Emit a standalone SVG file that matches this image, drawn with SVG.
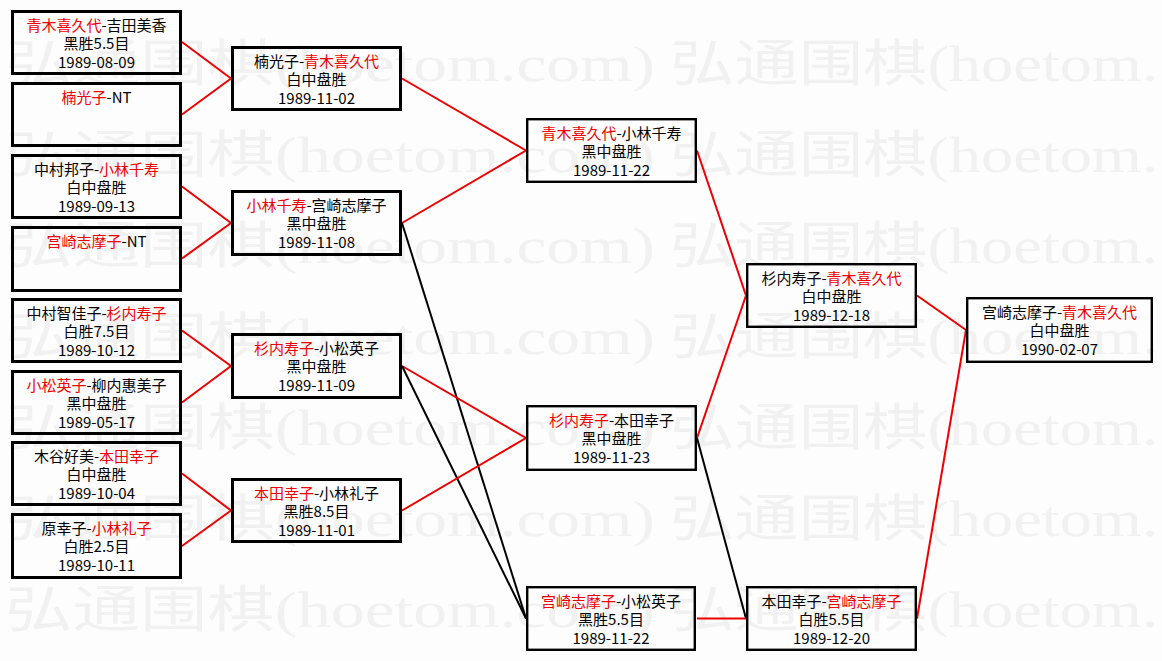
<svg xmlns="http://www.w3.org/2000/svg" width="1162" height="661" viewBox="0 0 1162 661">
<style>
.bg{fill:#fdfdfd}
.wm{font-family:"Liberation Serif","Noto Sans CJK SC",serif;font-size:50px;fill:#f1f1f1}
.box{fill:none;stroke:#000;stroke-width:3}
.box2{fill:none;stroke:#000;stroke-width:2.4}
text.t{font-family:"Noto Sans CJK SC","Noto Sans CJK JP",sans-serif;font-size:15px;fill:#000;text-anchor:middle}
.r{fill:#ee0000}
.cr{stroke:#ee0000;stroke-width:2;fill:none}
.cb{stroke:#000;stroke-width:2;fill:none}
</style>
<rect class="bg" x="0" y="0" width="1162" height="661"/>
<g id="watermark">
<text class="wm" x="5" y="81" textLength="650" lengthAdjust="spacingAndGlyphs">弘通围棋(hoetom.com)</text>
<text class="wm" x="670" y="81" textLength="488" lengthAdjust="spacingAndGlyphs">弘通围棋(hoetom.</text>
<text class="wm" x="5" y="172" textLength="650" lengthAdjust="spacingAndGlyphs">弘通围棋(hoetom.com)</text>
<text class="wm" x="670" y="172" textLength="488" lengthAdjust="spacingAndGlyphs">弘通围棋(hoetom.</text>
<text class="wm" x="5" y="263" textLength="650" lengthAdjust="spacingAndGlyphs">弘通围棋(hoetom.com)</text>
<text class="wm" x="670" y="263" textLength="488" lengthAdjust="spacingAndGlyphs">弘通围棋(hoetom.</text>
<text class="wm" x="5" y="354" textLength="650" lengthAdjust="spacingAndGlyphs">弘通围棋(hoetom.com)</text>
<text class="wm" x="670" y="354" textLength="488" lengthAdjust="spacingAndGlyphs">弘通围棋(hoetom.</text>
<text class="wm" x="5" y="445" textLength="650" lengthAdjust="spacingAndGlyphs">弘通围棋(hoetom.com)</text>
<text class="wm" x="670" y="445" textLength="488" lengthAdjust="spacingAndGlyphs">弘通围棋(hoetom.</text>
<text class="wm" x="5" y="536" textLength="650" lengthAdjust="spacingAndGlyphs">弘通围棋(hoetom.com)</text>
<text class="wm" x="670" y="536" textLength="488" lengthAdjust="spacingAndGlyphs">弘通围棋(hoetom.</text>
<text class="wm" x="5" y="627" textLength="650" lengthAdjust="spacingAndGlyphs">弘通围棋(hoetom.com)</text>
<text class="wm" x="670" y="627" textLength="488" lengthAdjust="spacingAndGlyphs">弘通围棋(hoetom.</text>
</g>
<g id="connectors">
<line class="cr" x1="182" y1="42" x2="231" y2="78.5"/>
<line class="cr" x1="182" y1="114.5" x2="231" y2="78.5"/>
<line class="cr" x1="182" y1="186.5" x2="231" y2="223"/>
<line class="cr" x1="182" y1="258.5" x2="231" y2="223"/>
<line class="cr" x1="182" y1="330.5" x2="231" y2="366"/>
<line class="cr" x1="182" y1="402.5" x2="231" y2="366"/>
<line class="cr" x1="182" y1="473.5" x2="231" y2="510.5"/>
<line class="cr" x1="182" y1="546" x2="231" y2="510.5"/>
<line class="cr" x1="402" y1="78.5" x2="526" y2="150.5"/>
<line class="cr" x1="402" y1="223" x2="526" y2="150.5"/>
<line class="cb" x1="402" y1="223" x2="526" y2="618.5"/>
<line class="cr" x1="402" y1="366" x2="526" y2="438"/>
<line class="cb" x1="402" y1="366" x2="526" y2="618.5"/>
<line class="cr" x1="402" y1="510.5" x2="526" y2="438"/>
<line class="cr" x1="697" y1="150.5" x2="746" y2="295.5"/>
<line class="cr" x1="697" y1="438" x2="746" y2="295.5"/>
<line class="cb" x1="697" y1="438" x2="746" y2="618.5"/>
<line class="cr" x1="697" y1="618.5" x2="746" y2="618.5"/>
<line class="cr" x1="917" y1="295.5" x2="966" y2="330"/>
<line class="cr" x1="917" y1="618.5" x2="966" y2="330"/>
</g>
<g id="n1"><rect class="box" x="12.5" y="11.5" width="168" height="62"/>
<text class="t" x="96.5" y="31"><tspan class="r">青木喜久代</tspan>-吉田美香</text>
<text class="t" x="96.5" y="49">黑胜5.5目</text>
<text class="t" x="96.5" y="68">1989-08-09</text></g>
<g id="n2"><rect class="box" x="12.5" y="83.5" width="168" height="62"/>
<text class="t" x="96.5" y="103"><tspan class="r">楠光子</tspan>-NT</text></g>
<g id="n3"><rect class="box" x="12.5" y="155.5" width="168" height="62"/>
<text class="t" x="96.5" y="175">中村邦子-<tspan class="r">小林千寿</tspan></text>
<text class="t" x="96.5" y="193">白中盘胜</text>
<text class="t" x="96.5" y="212">1989-09-13</text></g>
<g id="n4"><rect class="box" x="12.5" y="227.5" width="168" height="63"/>
<text class="t" x="96.5" y="247"><tspan class="r">宫崎志摩子</tspan>-NT</text></g>
<g id="n5"><rect class="box" x="12.5" y="299.5" width="168" height="62"/>
<text class="t" x="96.5" y="319">中村智佳子-<tspan class="r">杉内寿子</tspan></text>
<text class="t" x="96.5" y="337">白胜7.5目</text>
<text class="t" x="96.5" y="356">1989-10-12</text></g>
<g id="n6"><rect class="box" x="12.5" y="371.5" width="168" height="62"/>
<text class="t" x="96.5" y="391"><tspan class="r">小松英子</tspan>-柳内惠美子</text>
<text class="t" x="96.5" y="409">黑中盘胜</text>
<text class="t" x="96.5" y="428">1989-05-17</text></g>
<g id="n7"><rect class="box" x="12.5" y="442.5" width="168" height="62"/>
<text class="t" x="96.5" y="462">木谷好美-<tspan class="r">本田幸子</tspan></text>
<text class="t" x="96.5" y="480">白中盘胜</text>
<text class="t" x="96.5" y="499">1989-10-04</text></g>
<g id="n8"><rect class="box" x="12.5" y="514.5" width="168" height="63"/>
<text class="t" x="96.5" y="534">原幸子-<tspan class="r">小林礼子</tspan></text>
<text class="t" x="96.5" y="552">白胜2.5目</text>
<text class="t" x="96.5" y="571">1989-10-11</text></g>
<g id="r2a"><rect class="box" x="232.5" y="47.5" width="168" height="62"/>
<text class="t" x="316.5" y="67">楠光子-<tspan class="r">青木喜久代</tspan></text>
<text class="t" x="316.5" y="85">白中盘胜</text>
<text class="t" x="316.5" y="104">1989-11-02</text></g>
<g id="r2b"><rect class="box" x="232.5" y="191.5" width="168" height="63"/>
<text class="t" x="316.5" y="211"><tspan class="r">小林千寿</tspan>-宫崎志摩子</text>
<text class="t" x="316.5" y="229">黑中盘胜</text>
<text class="t" x="316.5" y="248">1989-11-08</text></g>
<g id="r2c"><rect class="box" x="232.5" y="334.5" width="168" height="63"/>
<text class="t" x="316.5" y="354"><tspan class="r">杉内寿子</tspan>-小松英子</text>
<text class="t" x="316.5" y="372">黑中盘胜</text>
<text class="t" x="316.5" y="391">1989-11-09</text></g>
<g id="r2d"><rect class="box" x="232.5" y="479.5" width="168" height="62"/>
<text class="t" x="316.5" y="499"><tspan class="r">本田幸子</tspan>-小林礼子</text>
<text class="t" x="316.5" y="517">黑胜8.5目</text>
<text class="t" x="316.5" y="536">1989-11-01</text></g>
<g id="r3a"><rect class="box2" x="527.2" y="119.2" width="168.6" height="62.6"/>
<text class="t" x="611.5" y="139"><tspan class="r">青木喜久代</tspan>-小林千寿</text>
<text class="t" x="611.5" y="157">黑中盘胜</text>
<text class="t" x="611.5" y="176">1989-11-22</text></g>
<g id="r3b"><rect class="box2" x="527.2" y="406.2" width="168.6" height="63.6"/>
<text class="t" x="611.5" y="426"><tspan class="r">杉内寿子</tspan>-本田幸子</text>
<text class="t" x="611.5" y="444">黑中盘胜</text>
<text class="t" x="611.5" y="463">1989-11-23</text></g>
<g id="r3c"><rect class="box2" x="527.2" y="587.2" width="167.6" height="62.6"/>
<text class="t" x="611" y="607"><tspan class="r">宫崎志摩子</tspan>-小松英子</text>
<text class="t" x="611" y="625">黑胜5.5目</text>
<text class="t" x="611" y="644">1989-11-22</text></g>
<g id="r4a"><rect class="box2" x="747.2" y="264.2" width="168.6" height="62.6"/>
<text class="t" x="831.5" y="284">杉内寿子-<tspan class="r">青木喜久代</tspan></text>
<text class="t" x="831.5" y="302">白中盘胜</text>
<text class="t" x="831.5" y="321">1989-12-18</text></g>
<g id="r4b"><rect class="box2" x="747.2" y="587.2" width="168.6" height="62.6"/>
<text class="t" x="831.5" y="607">本田幸子-<tspan class="r">宫崎志摩子</tspan></text>
<text class="t" x="831.5" y="625">白胜5.5目</text>
<text class="t" x="831.5" y="644">1989-12-20</text></g>
<g id="final"><rect class="box2" x="967.2" y="298.2" width="184.6" height="63.6"/>
<text class="t" x="1059.5" y="318">宫崎志摩子-<tspan class="r">青木喜久代</tspan></text>
<text class="t" x="1059.5" y="336">白中盘胜</text>
<text class="t" x="1059.5" y="355">1990-02-07</text></g>
</svg>
